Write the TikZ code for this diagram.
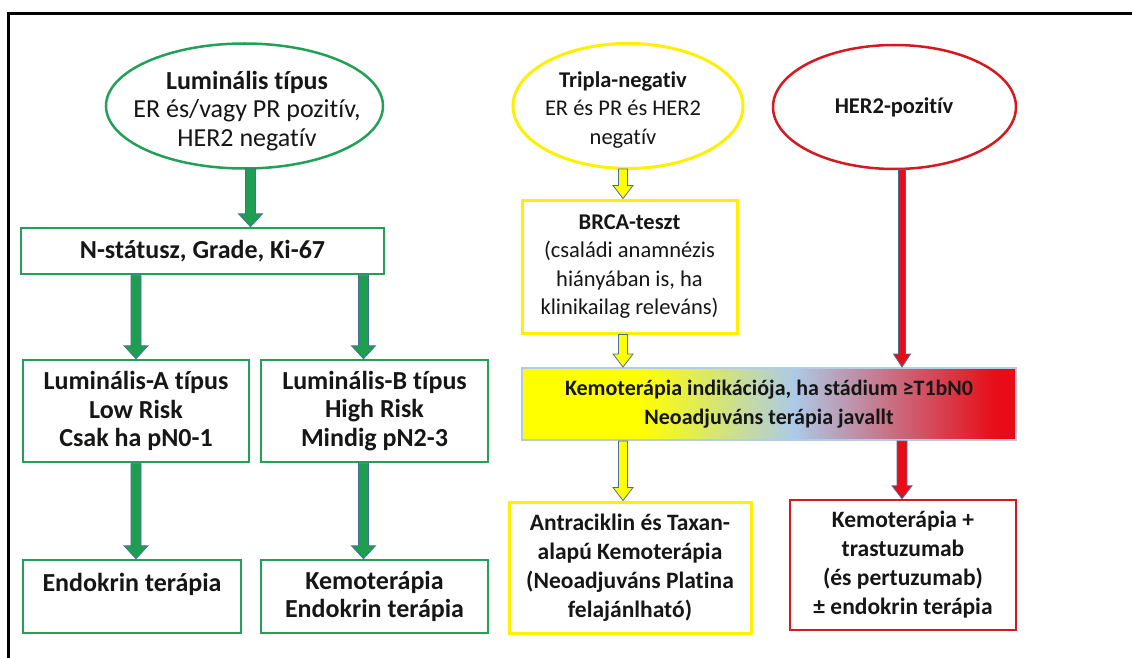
\documentclass[tikz,border=0pt]{standalone}
\usepackage{fontspec}
\setmainfont{Carlito}[Ligatures=NoCommon]
\usetikzlibrary{calc,shapes.geometric}

\definecolor{grn}{RGB}{34,160,88}
\definecolor{grnfill}{RGB}{30,158,80}
\definecolor{yelb}{RGB}{255,240,0}
\definecolor{yelf}{RGB}{255,255,0}
\definecolor{redc}{RGB}{214,24,32}
\definecolor{redf}{RGB}{232,12,22}
\definecolor{skyb}{RGB}{172,202,232}
\definecolor{gradedge}{RGB}{178,204,230}
\definecolor{arrowline}{RGB}{72,110,150}
\definecolor{txt}{RGB}{22,22,22}

% yellow -> light blue -> red band of the chemotherapy box
\pgfdeclarehorizontalshading{kemograd}{100bp}{%
  color(0bp)=(yelf); color(37bp)=(yelf); color(52.5bp)=(skyb);
  color(73bp)=(redf); color(100bp)=(redf)}

% block arrow straight down: fill, start (gives x and top), target (gives tip y),
% half shaft width, half head width, head length
\newcommand\blockarrow[6]{%
  \path[arrowedge, fill=#1] let \p1=#2, \p2=#3 in
    (\x1-#4pt,\y1) -- (\x1-#4pt,\y2+#6pt) -- (\x1-#5pt,\y2+#6pt) -- (\x1,\y2)
    -- (\x1+#5pt,\y2+#6pt) -- (\x1+#4pt,\y2+#6pt) -- (\x1+#4pt,\y1) -- cycle;}

\begin{document}
\begin{tikzpicture}[x=1pt,y=-1pt,
  lfont/.style={font={\fontsize{26}{28.3}\selectfont}},
  lbfont/.style={font={\fontsize{26}{28.3}\selectfont\bfseries}},
  rfont/.style={font={\fontsize{22.5}{28.5}\selectfont}},
  rhfont/.style={font={\fontsize{22.5}{28.5}\selectfont\bfseries}},
  rbfont/.style={font={\fontsize{23.5}{29}\selectfont\bfseries}},
  box/.style={draw, line width=2.5pt, align=center, inner sep=0pt, text=txt},
  gbox/.style={box, draw=grn, lbfont},
  ybox/.style={box, draw=yelb, line width=3pt},
  rbox/.style={box, draw=redc, rbfont},
  oval/.style={ellipse, draw, line width=2.5pt, inner sep=0pt},
  ovaltext/.style={align=center, inner sep=0pt, text=txt},
  arrowedge/.style={draw=arrowline, line width=0.8pt}]

\useasboundingbox (0,0) rectangle (1132,658);
\fill[white] (0,0) rectangle (1132,658);

% frame
\draw[line width=3pt, line cap=rect] (1133,14) -- (8,14) -- (8,659);

% luminal branch
\node[oval, draw=grn, minimum width=277pt, minimum height=125pt] (lum) at (244.5,106) {};
\node[ovaltext, lfont] (lumtext) at (247,111)
  {{\bfseries Luminális típus}\\ER és/vagy PR pozitív,\\HER2 negatív};
\node[gbox, minimum width=363pt, minimum height=46pt] (nst) at (202.5,251)
  {N-státusz, Grade, Ki-67};
\node[gbox, minimum width=226pt, minimum height=102pt] (luma) at (136,411)
  {Luminális-A típus\\Low Risk\\Csak ha pN0-1};
\node[gbox, minimum width=227pt, minimum height=102pt] (lumb) at (374.5,411)
  {Luminális-B típus\\High Risk\\Mindig pN2-3};
\node[gbox, minimum width=218pt, minimum height=73pt] (endo) at (132,596.5)
  {Endokrin terápia\\\phantom{X}};
\node[gbox, minimum width=227pt, minimum height=73pt] (kemo) at (374.5,596.5)
  {Kemoterápia\\Endokrin terápia};

% triple-negative branch
\node[oval, draw=yelb, line width=3pt, minimum width=230pt, minimum height=125pt] (trip) at (628,106) {};
\node[ovaltext, rfont] (triptext) at (623,110)
  {{\bfseries Tripla-negativ}\\ER és PR és HER2\\negatív};
\node[ybox, rfont, minimum width=215pt, minimum height=133pt] (brca) at (629.5,266.5)
  {{\bfseries BRCA-teszt}\\(családi anamnézis\\hiányában is, ha\\klinikailag releváns)};
\node[box, draw=gradedge, line width=2pt, shading=kemograd, minimum width=494pt, minimum height=72pt]
  (grad) at (769,404) {};
\node[ovaltext, font={\fontsize{22}{28.3}\selectfont\bfseries}] (gradtext) at (769,404)
  {Kemoterápia indikációja, ha stádium ≥T1bN0\\Neoadjuváns terápia javallt};
\node[ybox, rbfont, minimum width=242pt, minimum height=131pt] (antra) at (630,567.5)
  {Antraciklin és Taxan-\\alapú Kemoterápia\\(Neoadjuváns Platina\\felajánlható)};

% HER2-positive branch
\node[oval, draw=redc, minimum width=243pt, minimum height=124pt] (her2) at (894.5,107) {};
\node[ovaltext, rhfont] (her2text) at (894,107) {HER2-pozitív};
\node[rbox, minimum width=226pt, minimum height=130pt] (trast) at (903,565)
  {Kemoterápia +\\trastuzumab\\(és pertuzumab)\\± endokrin terápia};

% connectors
\blockarrow{grnfill}{($(lum.south)+(6,-1)$)}{(nst.north)}{5}{12}{13}
\blockarrow{grnfill}{(nst.south -| luma.north)}{(luma.north)}{5}{12}{13}
\blockarrow{grnfill}{($(nst.south -| lumb.north)+(-11,0)$)}{(lumb.north)}{5}{12}{13}
\blockarrow{grnfill}{(luma.south)}{(endo.north)}{5}{12}{13}
\blockarrow{grnfill}{($(lumb.south)+(-11,0)$)}{(kemo.north)}{5}{12}{13}

\blockarrow{yelf}{($(trip.south)+(-5,-1)$)}{(brca.north)}{4.5}{10}{13}
\blockarrow{yelf}{($(brca.south)+(-6.5,0)$)}{(grad.north)}{4.5}{10}{13}
\blockarrow{yelf}{($(grad.south -| antra.north)+(-7,0)$)}{(antra.north)}{4.5}{10}{13}

\blockarrow{redf}{($(her2.south)+(7.5,-1)$)}{(grad.north)}{3.5}{8.5}{13}
\blockarrow{redf}{($(grad.south -| trast.north)+(-1,0)$)}{(trast.north)}{5}{10}{13}
\end{tikzpicture}
\end{document}
